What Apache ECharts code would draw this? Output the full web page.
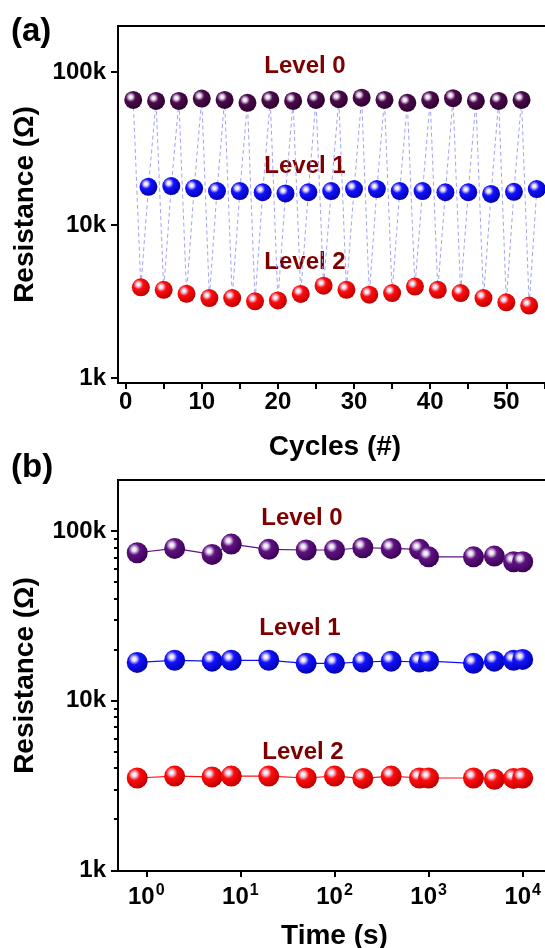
<!DOCTYPE html>
<html>
<head>
<meta charset="utf-8">
<script src="https://cdn.jsdelivr.net/npm/echarts@6/dist/echarts.min.js"></script>
<style>
  html, body { margin: 0; padding: 0; background: #fff; }
  #chart { width: 545px; height: 948px; }
</style>
</head>
<body>
<div id="chart"></div>
<script>
// (a) endurance: cycle index of each read, per level
const cyclesL0 = [1, 4, 7, 10, 13, 16, 19, 22, 25, 28, 31, 34, 37, 40, 43, 46, 49, 52];
const cyclesL2 = [2, 5, 8, 11, 14, 17, 20, 23, 26, 29, 32, 35, 38, 41, 44, 47, 50, 53];
const cyclesL1 = [3, 6, 9, 12, 15, 18, 21, 24, 27, 30, 33, 36, 39, 42, 45, 48, 51, 54];
// resistance in ohm
const cycleResL0 = [65800, 64800, 64800, 67100, 65800, 63000, 65800, 64800, 65800, 66500, 68000, 65800, 63000, 65800, 67500, 64800, 64800, 65800];
const cycleResL1 = [17800, 18000, 17400, 16700, 16700, 16400, 16100, 16400, 16700, 17200, 17200, 16700, 16700, 16400, 16400, 16000, 16500, 17200];
const cycleResL2 = [3920, 3780, 3560, 3340, 3340, 3180, 3220, 3550, 4020, 3780, 3510, 3600, 3970, 3780, 3600, 3340, 3130, 2980];

// (b) retention
const times = [0.8, 2, 5, 8, 20, 50, 100, 200, 400, 800, 1000, 3000, 5000, 8000, 10000];
const retResL0 = [74500, 79000, 72800, 83800, 78000, 77300, 77300, 79700, 79000, 78000, 70500, 70500, 71200, 65900, 65900];
const retResL1 = [16800, 17300, 17100, 17300, 17300, 16600, 16600, 16900, 17100, 16900, 17100, 16600, 17100, 17300, 17500];
const retResL2 = [3500, 3590, 3550, 3590, 3590, 3500, 3590, 3480, 3590, 3500, 3500, 3500, 3440, 3480, 3500];

// ticks
const cycleTicks = [0, 5, 10, 15, 20, 25, 30, 35, 40, 45, 50, 55];
const cycleLabels = [0, 10, 20, 30, 40, 50];
const resTicks = [1000, 10000, 100000];
const resMinorTicks = [2000, 3000, 4000, 5000, 6000, 7000, 8000, 9000,
  20000, 30000, 40000, 50000, 60000, 70000, 80000, 90000];
const timeTicks = [1, 10, 100, 1000, 10000];

const levelNames = ['Level 0', 'Level 1', 'Level 2'];

const FONT = '"Liberation Sans", Arial, sans-serif';

function ball(base, dark) {
  return {
    type: 'radial', x: 0.36, y: 0.34, r: 0.72,
    colorStops: [
      { offset: 0, color: '#ffffff' },
      { offset: 0.14, color: '#e8dcf0' },
      { offset: 0.38, color: base },
      { offset: 1, color: dark }
    ]
  };
}

function zip(xs, ys) {
  return xs.map((x, i) => [x, ys[i]]);
}

// the dashed path walks every read in cycle order
const allReads = zip(cyclesL0, cycleResL0)
  .concat(zip(cyclesL1, cycleResL1))
  .concat(zip(cyclesL2, cycleResL2))
  .sort((a, b) => a[0] - b[0]);

const axisLine = { show: true, onZero: false, lineStyle: { color: '#000', width: 2 } };
const labelStyle = { color: '#000', fontFamily: FONT, fontWeight: 'bold', fontSize: 24 };
const nameStyle = { color: '#000', fontFamily: FONT, fontWeight: 'bold', fontSize: 28 };

function kLabel(v) {
  return Math.round(v / 1000) + 'k';
}

function powLabel(v) {
  const e = Math.round(Math.log10(v));
  return '{b|10}{s|' + e + '}';
}

const chart = echarts.init(document.getElementById('chart'), null, { renderer: 'canvas' });

chart.setOption({
  animation: false,
  backgroundColor: '#fff',
  grid: [
    { left: 118, top: 26, width: 434, height: 357, outerBoundsMode: 'none', containLabel: false,
      show: true, borderColor: '#000', borderWidth: 2 },
    { left: 118, top: 480, width: 433, height: 391, outerBoundsMode: 'none', containLabel: false,
      show: true, borderColor: '#000', borderWidth: 2 }
  ],
  xAxis: [
    {
      gridIndex: 0, type: 'value', min: -1, max: 56,
      axisLine: axisLine,
      axisTick: { show: true, inside: false, length: 6, lineStyle: { width: 2, color: '#000' }, customValues: cycleTicks },
      axisLabel: Object.assign({ customValues: cycleLabels, margin: 7 }, labelStyle),
      splitLine: { show: false },
      name: 'Cycles (#)', nameLocation: 'middle', nameGap: 50, nameTextStyle: nameStyle
    },
    {
      gridIndex: 1, type: 'log', min: 0.5, max: 20000,
      axisLine: axisLine,
      axisTick: { show: true, length: 6, lineStyle: { width: 2, color: '#000' }, customValues: timeTicks },
      axisLabel: {
        customValues: timeTicks, margin: 12,
        formatter: powLabel,
        rich: {
          b: { fontFamily: FONT, fontWeight: 'bold', fontSize: 24, color: '#000', lineHeight: 28 },
          s: { fontFamily: FONT, fontWeight: 'bold', fontSize: 16, color: '#000', verticalAlign: 'top', lineHeight: 28, padding: [0, 0, 14, 1] }
        }
      },
      splitLine: { show: false },
      name: 'Time (s)', nameLocation: 'middle', nameGap: 51, nameTextStyle: nameStyle
    }
  ],
  yAxis: [
    {
      gridIndex: 0, type: 'log', min: 930, max: 200000,
      axisLine: axisLine,
      axisTick: { show: true, length: 7, lineStyle: { width: 2, color: '#000' }, customValues: resTicks },
      axisLabel: Object.assign({ customValues: resTicks, formatter: kLabel, margin: 12 }, labelStyle),
      splitLine: { show: false },
      name: 'Resistance (\u03a9)', nameLocation: 'middle', nameGap: 79, nameTextStyle: nameStyle
    },
    {
      gridIndex: 1, type: 'log', min: 990, max: 200000,
      axisLine: axisLine,
      axisTick: { show: true, length: 7, lineStyle: { width: 2, color: '#000' }, customValues: resTicks },
      axisLabel: Object.assign({ customValues: resTicks, formatter: kLabel, margin: 12 }, labelStyle),
      splitLine: { show: false },
      name: 'Resistance (\u03a9)', nameLocation: 'middle', nameGap: 79, nameTextStyle: nameStyle
    },
    {
      // minor log ticks for (b)
      gridIndex: 1, type: 'log', min: 990, max: 200000, position: 'left',
      axisLine: { show: false, onZero: false },
      axisTick: { show: true, length: 4, lineStyle: { width: 2, color: '#000' }, customValues: resMinorTicks },
      axisLabel: { show: false },
      splitLine: { show: false }
    }
  ],
  series: [
    {
      type: 'line', xAxisIndex: 0, yAxisIndex: 0, data: allReads,
      showSymbol: false, z: 1,
      lineStyle: { color: '#a3a3f5', width: 1, type: [4, 3] }
    },
    {
      name: levelNames[0], type: 'scatter', xAxisIndex: 0, yAxisIndex: 0, z: 3,
      data: zip(cyclesL0, cycleResL0), symbolSize: 18,
      itemStyle: { color: ball('#4c0a4c', '#2a002a'), opacity: 1 }
    },
    {
      name: levelNames[1], type: 'scatter', xAxisIndex: 0, yAxisIndex: 0, z: 3,
      data: zip(cyclesL1, cycleResL1), symbolSize: 18,
      itemStyle: { color: ball('#1212ff', '#0000a8'), opacity: 1 }
    },
    {
      name: levelNames[2], type: 'scatter', xAxisIndex: 0, yAxisIndex: 0, z: 3,
      data: zip(cyclesL2, cycleResL2), symbolSize: 18,
      itemStyle: { color: ball('#ff0c0c', '#b80000'), opacity: 1 }
    },
    {
      name: levelNames[0], type: 'line', xAxisIndex: 1, yAxisIndex: 1, z: 3,
      data: zip(times, retResL0), symbol: 'circle', symbolSize: 21, showSymbol: true,
      lineStyle: { color: '#5e1280', width: 1.2 },
      itemStyle: { color: ball('#5e1280', '#380050') }
    },
    {
      name: levelNames[1], type: 'line', xAxisIndex: 1, yAxisIndex: 1, z: 3,
      data: zip(times, retResL1), symbol: 'circle', symbolSize: 21, showSymbol: true,
      lineStyle: { color: '#1010ff', width: 1.2 },
      itemStyle: { color: ball('#1212ff', '#0000a8') }
    },
    {
      name: levelNames[2], type: 'line', xAxisIndex: 1, yAxisIndex: 1, z: 3,
      data: zip(times, retResL2), symbol: 'circle', symbolSize: 21, showSymbol: true,
      lineStyle: { color: '#ff1010', width: 1.2 },
      itemStyle: { color: ball('#ff0c0c', '#b80000') }
    }
  ],
  graphic: [
    { type: 'text', left: 11, top: 15, style: { text: '(a)', font: 'bold 33px ' + FONT, fill: '#000' } },
    { type: 'text', left: 11, top: 451, style: { text: '(b)', font: 'bold 33px ' + FONT, fill: '#000' } },
    { type: 'text', x: 305, y: 66, style: { text: levelNames[0], font: 'bold 24px ' + FONT, fill: '#7c0000', align: 'center', verticalAlign: 'middle' } },
    { type: 'text', x: 305, y: 166, style: { text: levelNames[1], font: 'bold 24px ' + FONT, fill: '#7c0000', align: 'center', verticalAlign: 'middle' } },
    { type: 'text', x: 305, y: 262, style: { text: levelNames[2], font: 'bold 24px ' + FONT, fill: '#7c0000', align: 'center', verticalAlign: 'middle' } },
    { type: 'text', x: 302, y: 518, style: { text: levelNames[0], font: 'bold 24px ' + FONT, fill: '#7c0000', align: 'center', verticalAlign: 'middle' } },
    { type: 'text', x: 300, y: 628, style: { text: levelNames[1], font: 'bold 24px ' + FONT, fill: '#7c0000', align: 'center', verticalAlign: 'middle' } },
    { type: 'text', x: 303, y: 752, style: { text: levelNames[2], font: 'bold 24px ' + FONT, fill: '#7c0000', align: 'center', verticalAlign: 'middle' } }
  ]
});
</script>
</body>
</html>
